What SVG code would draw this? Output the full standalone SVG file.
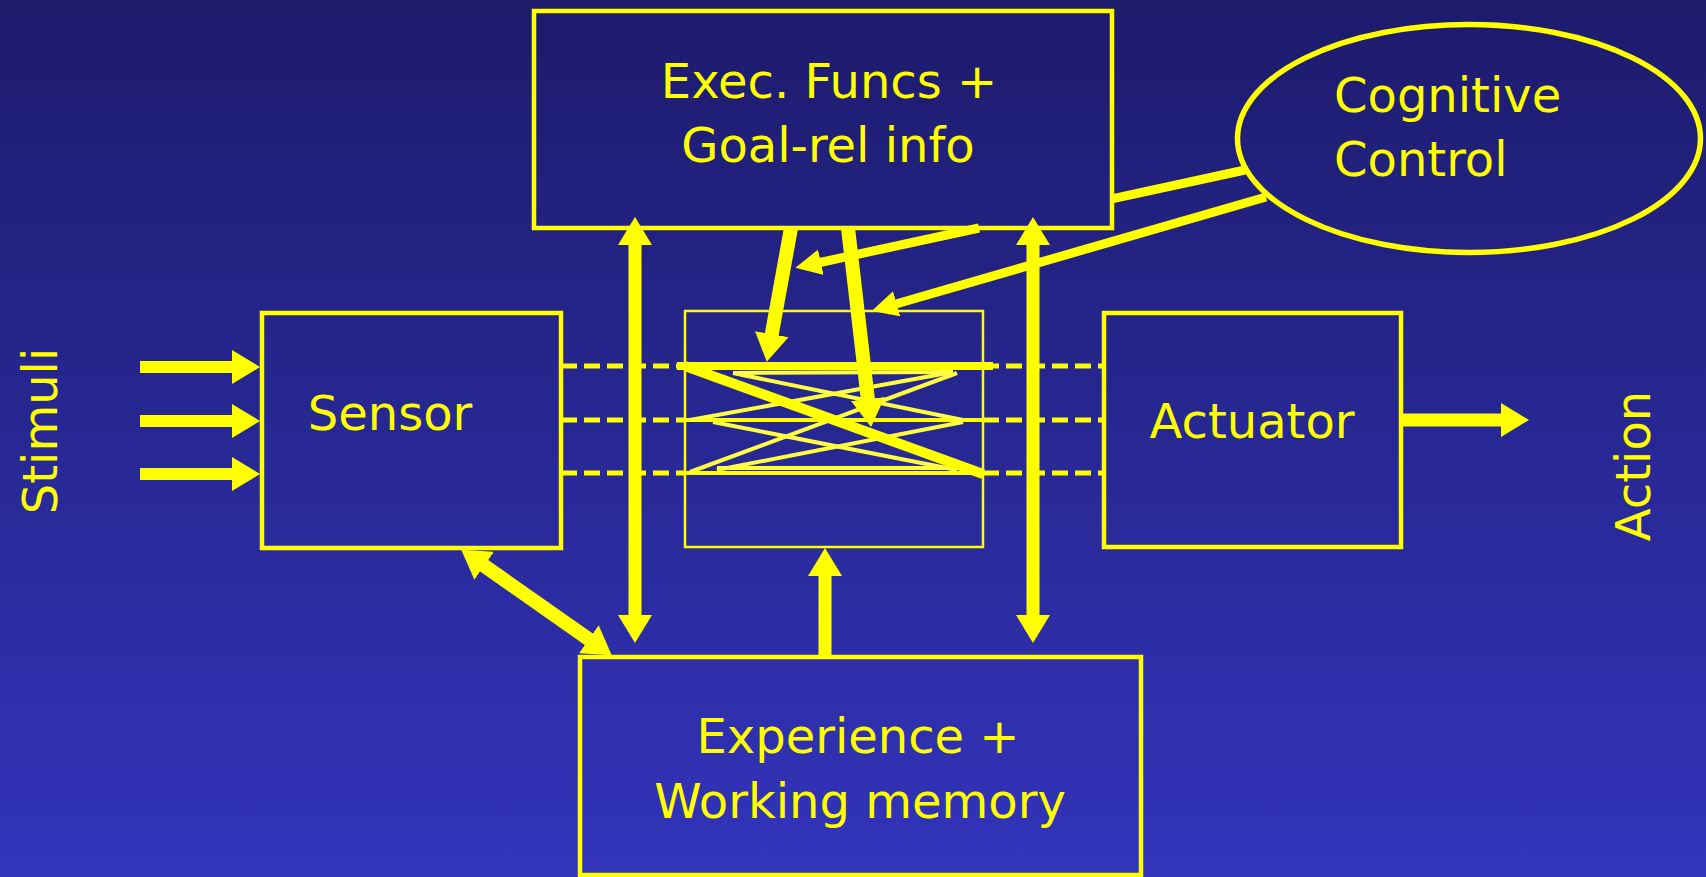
<svg xmlns="http://www.w3.org/2000/svg" width="1706" height="877" viewBox="0 0 1706 877">
  <defs>
    <linearGradient id="bg" gradientUnits="userSpaceOnUse" x1="0" y1="0" x2="0" y2="877">
      <stop offset="0" stop-color="#1d1b6c"/>
      <stop offset="1" stop-color="#3234bb"/>
    </linearGradient>
    <!-- large filled arrowhead: tip lies 18px beyond the end of the shaft -->
    <marker id="head" viewBox="0 0 28 34" refX="10" refY="17" markerWidth="28" markerHeight="34" markerUnits="userSpaceOnUse" orient="auto-start-reverse">
      <path d="M0,0 L28,17 L0,34 z" fill="#ffff00"/>
    </marker>
    <!-- smaller arrowhead for the control lines -->
    <marker id="head-s" viewBox="0 0 26 26" refX="8" refY="13" markerWidth="26" markerHeight="26" markerUnits="userSpaceOnUse" orient="auto-start-reverse">
      <path d="M0,0 L26,13 L0,26 z" fill="#ffff00"/>
    </marker>
    <style>
      .box { fill: none; stroke: #ffff00; stroke-width: 4.5; }
      .thin-box { fill: none; stroke: #ffff00; stroke-width: 2.5; }
      .lbl { fill: #ffff00; font-family: "DejaVu Sans", "Liberation Sans", sans-serif; font-size: 48px; }
      .mid { text-anchor: middle; }
      .shaft { stroke: #ffff00; fill: none; stroke-linecap: butt; }
      .w9 { stroke-width: 9; }
      .w12 { stroke-width: 12; }
      .w13 { stroke-width: 13; }
      .w14 { stroke-width: 14; }
      .dash { stroke: #ffff00; stroke-width: 5; stroke-dasharray: 16 7; fill: none; }
      .bar { stroke: #ffff00; fill: none; }
      .x { stroke: #ffff40; stroke-width: 4; fill: none; }
    </style>
  </defs>

  <rect x="0" y="0" width="1706" height="877" fill="url(#bg)"/>

  <!-- side labels -->
  <text class="lbl mid" transform="translate(57,431) rotate(-90)">Stimuli</text>
  <text class="lbl mid" transform="translate(1650,466) rotate(-90)">Action</text>

  <g id="exec">
    <rect class="box" x="534" y="11" width="578" height="217"/>
    <text class="lbl mid" x="829" y="98">Exec. Funcs +</text>
    <text class="lbl mid" x="828" y="162">Goal-rel info</text>
  </g>

  <g id="cognitive-control">
    <ellipse cx="1469" cy="138.5" rx="231.5" ry="114" fill="none" stroke="#ffff00" stroke-width="5.5"/>
    <text class="lbl" x="1334" y="112">Cognitive</text>
    <text class="lbl" x="1334" y="176">Control</text>
  </g>

  <g id="sensor">
    <rect class="box" x="262" y="313" width="299" height="235"/>
    <text class="lbl mid" x="390" y="430">Sensor</text>
  </g>

  <g id="actuator">
    <rect class="box" x="1104" y="313" width="297" height="234"/>
    <text class="lbl mid" x="1252" y="438">Actuator</text>
  </g>

  <g id="experience">
    <rect class="box" x="580" y="657" width="561" height="218"/>
    <text class="lbl mid" x="858" y="753">Experience +</text>
    <text class="lbl mid" x="860" y="818">Working memory</text>
  </g>

  <!-- switching stage: channels cross-connected inside a thin frame -->
  <g id="switch">
    <rect class="thin-box" x="685" y="311" width="298" height="236"/>
    <line class="bar" x1="677" y1="366" x2="993" y2="366" stroke-width="8"/>
    <line class="bar" x1="677" y1="420" x2="993" y2="420" stroke-width="4"/>
    <line class="bar" x1="677" y1="473" x2="993" y2="473" stroke-width="4"/>
    <line class="x" x1="733" y1="373" x2="953" y2="372"/>
    <line class="x" x1="733" y1="373" x2="963" y2="420"/>
    <line class="x" x1="690" y1="420" x2="953" y2="372"/>
    <line class="x" x1="713" y1="422" x2="957" y2="470"/>
    <line class="x" x1="690" y1="472" x2="957" y2="373"/>
    <line class="x" x1="717" y1="470" x2="963" y2="422"/>
    <line class="x" x1="717" y1="468" x2="957" y2="468"/>
    <line class="bar" x1="685" y1="366" x2="983" y2="474" stroke-width="10"/>
  </g>

  <g id="connectors">
    <!-- stimuli into the sensor -->
    <line class="shaft w12" x1="140" y1="367" x2="242" y2="367" marker-end="url(#head)"/>
    <line class="shaft w12" x1="140" y1="421" x2="242" y2="421" marker-end="url(#head)"/>
    <line class="shaft w12" x1="140" y1="474" x2="242" y2="474" marker-end="url(#head)"/>
    <!-- actuator output -->
    <line class="shaft w13" x1="1401" y1="420" x2="1511" y2="420" marker-end="url(#head)"/>

    <!-- sensor / switch / actuator channels -->
    <line class="dash" x1="561" y1="366" x2="685" y2="366"/>
    <line class="dash" x1="561" y1="420" x2="685" y2="420"/>
    <line class="dash" x1="561" y1="473" x2="685" y2="473"/>
    <line class="dash" x1="983" y1="366" x2="1104" y2="366"/>
    <line class="dash" x1="983" y1="420" x2="1104" y2="420"/>
    <line class="dash" x1="983" y1="473" x2="1104" y2="473"/>

    <!-- exec <-> experience, both sides -->
    <line class="shaft w13" x1="635" y1="235" x2="635" y2="625" marker-start="url(#head)" marker-end="url(#head)"/>
    <line class="shaft w13" x1="1033" y1="235" x2="1033" y2="625" marker-start="url(#head)" marker-end="url(#head)"/>
    <!-- experience up into the switch -->
    <line class="shaft w13" x1="825" y1="657" x2="825" y2="566" marker-end="url(#head)"/>
    <!-- exec down into the switch -->
    <line class="shaft w14" x1="791" y1="228" x2="770" y2="344" marker-end="url(#head)"/>
    <line class="shaft w14" x1="848" y1="228" x2="869" y2="409" marker-end="url(#head)"/>
    <!-- sensor <-> experience -->
    <line class="shaft w14" x1="476" y1="560" x2="597" y2="645" marker-start="url(#head)" marker-end="url(#head)"/>

    <!-- cognitive control lines (first one passes behind the exec box) -->
    <line class="shaft w9" x1="1245" y1="170" x2="1113" y2="198.7"/>
    <line class="shaft w9" x1="979" y1="228" x2="813" y2="264" marker-end="url(#head-s)"/>
    <line class="shaft w9" x1="1266" y1="197" x2="889" y2="306" marker-end="url(#head-s)"/>
  </g>
</svg>
